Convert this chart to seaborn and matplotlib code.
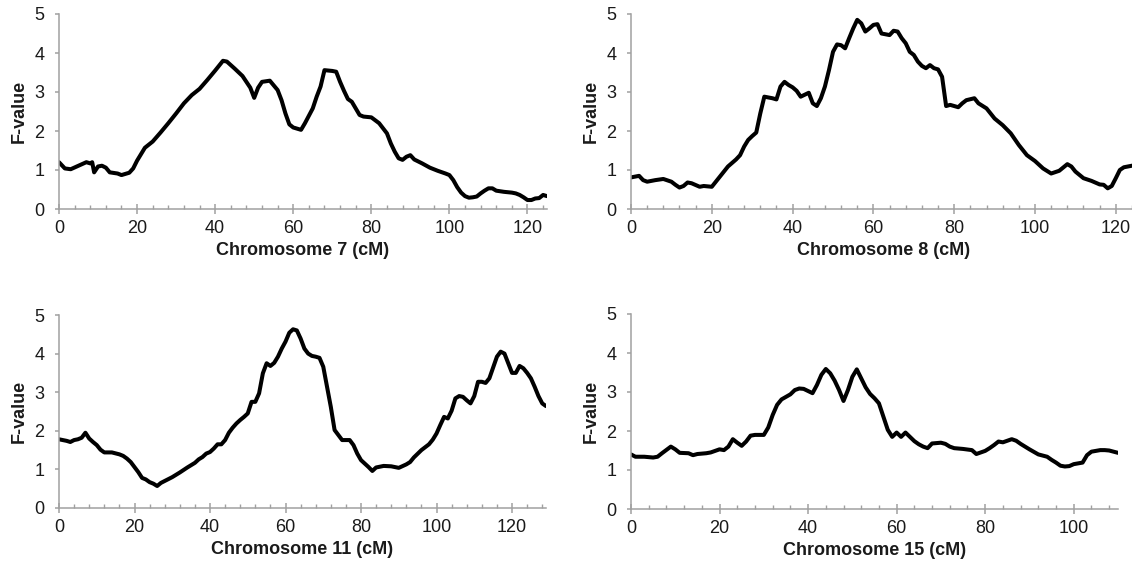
import numpy as np
import pandas as pd
import matplotlib
matplotlib.use("Agg")
import matplotlib.pyplot as plt
from matplotlib.ticker import MultipleLocator
import seaborn as sns

# ---------------- data ----------------
chr7_cm = [0, 1.5, 3, 5, 7, 8, 8.5, 9, 10, 11, 12, 13, 15, 16, 18, 19, 20, 22, 24, 26, 28, 30, 32, 34, 36, 38, 40, 42, 43, 45, 47, 49, 50, 51, 52, 54, 56, 57, 58, 59, 60, 62, 63, 65, 66, 67, 68, 70, 71, 72, 73, 74, 75, 77, 78, 80, 82, 84, 85, 86, 87, 88, 89, 90, 91, 93, 95, 97, 99, 100, 101, 102, 103, 104, 105, 106, 107, 108, 109, 110, 111, 112, 114, 116, 117, 118, 119, 120, 121, 122, 123, 124, 125]
chr7_f = [1.2, 1.04, 1.02, 1.11, 1.2, 1.17, 1.2, 0.94, 1.09, 1.11, 1.06, 0.94, 0.91, 0.87, 0.93, 1.04, 1.24, 1.57, 1.73, 1.96, 2.2, 2.45, 2.71, 2.92, 3.08, 3.31, 3.55, 3.8, 3.78, 3.6, 3.41, 3.11, 2.85, 3.11, 3.26, 3.29, 3.05, 2.79, 2.45, 2.17, 2.09, 2.03, 2.2, 2.58, 2.88, 3.14, 3.56, 3.54, 3.52, 3.26, 3.03, 2.82, 2.75, 2.41, 2.37, 2.35, 2.2, 1.94, 1.68, 1.47, 1.3, 1.26, 1.34, 1.38, 1.27, 1.17, 1.06, 0.98, 0.91, 0.87, 0.74, 0.56, 0.42, 0.33, 0.29, 0.3, 0.32, 0.4, 0.47, 0.53, 0.53, 0.47, 0.44, 0.42, 0.4, 0.36, 0.3, 0.23, 0.23, 0.27, 0.28, 0.36, 0.33]

chr8_cm = [0, 1, 2, 3, 4, 6, 8, 10, 11, 12, 13, 14, 15, 17, 18, 20, 21, 22, 24, 26, 27, 28, 29, 30, 31, 32, 33, 34, 35, 36, 37, 38, 39, 40, 41, 42, 44, 45, 46, 47, 48, 49, 50, 51, 52, 53, 54, 55, 56, 57, 58, 59, 60, 61, 62, 64, 65, 66, 67, 68, 69, 70, 71, 72, 73, 74, 75, 76, 77, 78, 79, 80, 81, 82, 83, 85, 86, 88, 90, 92, 94, 96, 98, 100, 102, 104, 106, 108, 109, 110, 112, 114, 116, 117, 118, 119, 120, 121, 122, 124, 125]
chr8_f = [0.81, 0.83, 0.85, 0.74, 0.7, 0.74, 0.77, 0.7, 0.62, 0.55, 0.59, 0.68, 0.66, 0.57, 0.59, 0.57, 0.7, 0.83, 1.09, 1.27, 1.38, 1.6, 1.77, 1.87, 1.96, 2.45, 2.88, 2.86, 2.84, 2.81, 3.14, 3.26, 3.18, 3.12, 3.03, 2.88, 2.98, 2.71, 2.64, 2.84, 3.14, 3.56, 4.03, 4.22, 4.2, 4.12, 4.38, 4.63, 4.85, 4.76, 4.55, 4.63, 4.72, 4.74, 4.5, 4.46, 4.57, 4.55, 4.38, 4.25, 4.03, 3.95, 3.78, 3.67, 3.61, 3.69, 3.61, 3.58, 3.39, 2.64, 2.67, 2.64, 2.61, 2.71, 2.79, 2.84, 2.71, 2.58, 2.32, 2.15, 1.94, 1.64, 1.38, 1.23, 1.04, 0.91, 0.98, 1.15, 1.09, 0.96, 0.79, 0.72, 0.63, 0.62, 0.53, 0.59, 0.79, 1.0, 1.07, 1.11, 1.12]

chr11_cm = [0, 2, 3, 4, 5, 6, 7, 8, 9, 10, 11, 12, 14, 16, 17, 18, 19, 20, 21, 22, 23, 24, 25, 26, 27, 28, 30, 32, 34, 36, 37, 38, 39, 40, 41, 42, 43, 44, 45, 46, 47, 48, 49, 50, 51, 52, 53, 54, 55, 56, 57, 58, 59, 60, 61, 62, 63, 64, 65, 66, 67, 68, 69, 70, 71, 72, 73, 74, 75, 76, 77, 78, 79, 80, 81, 82, 83, 84, 86, 88, 90, 92, 93, 94, 96, 98, 99, 100, 101, 102, 103, 104, 105, 106, 107, 108, 109, 110, 111, 112, 113, 114, 115, 116, 117, 118, 119, 120, 121, 122, 123, 124, 125, 126, 127, 128, 129]
chr11_f = [1.78, 1.74, 1.71, 1.76, 1.78, 1.82, 1.95, 1.8, 1.71, 1.63, 1.51, 1.44, 1.44, 1.39, 1.35, 1.28, 1.19, 1.06, 0.93, 0.78, 0.74, 0.67, 0.63, 0.57, 0.65, 0.7, 0.8, 0.92, 1.05, 1.17, 1.26, 1.32, 1.41, 1.45, 1.54, 1.65, 1.65, 1.76, 1.95, 2.08, 2.19, 2.28, 2.36, 2.45, 2.75, 2.75, 2.97, 3.49, 3.75, 3.68, 3.76, 3.92, 4.13, 4.31, 4.54, 4.63, 4.6, 4.39, 4.13, 4.0, 3.94, 3.92, 3.89, 3.66, 3.14, 2.62, 2.02, 1.89, 1.76, 1.76, 1.76, 1.63, 1.41, 1.24, 1.15, 1.06, 0.96, 1.05, 1.09, 1.08, 1.04, 1.13, 1.19, 1.31, 1.5, 1.65, 1.77, 1.93, 2.15, 2.36, 2.32, 2.52, 2.84, 2.9, 2.88, 2.79, 2.71, 2.9, 3.27, 3.27, 3.24, 3.36, 3.64, 3.92, 4.05, 4.0, 3.75, 3.5, 3.5, 3.68, 3.62, 3.5, 3.36, 3.14, 2.9, 2.71, 2.64]

chr15_cm = [0, 1, 3, 5, 6, 7, 9, 10, 11, 13, 14, 15, 17, 18, 20, 21, 22, 23, 24, 25, 26, 27, 28, 30, 31, 32, 33, 34, 36, 37, 38, 39, 41, 42, 43, 44, 45, 46, 47, 48, 49, 50, 51, 52, 53, 54, 55, 56, 57, 58, 59, 60, 61, 62, 63, 64, 65, 66, 67, 68, 70, 71, 72, 73, 75, 77, 78, 80, 81, 82, 83, 84, 86, 87, 88, 90, 92, 94, 95, 96, 97, 98, 99, 100, 102, 103, 104, 106, 107, 108, 110]
chr15_f = [1.4, 1.34, 1.34, 1.32, 1.34, 1.43, 1.6, 1.53, 1.44, 1.43, 1.38, 1.41, 1.43, 1.45, 1.53, 1.51, 1.6, 1.79, 1.7, 1.62, 1.73, 1.88, 1.9, 1.9, 2.09, 2.41, 2.67, 2.81, 2.94, 3.05, 3.09, 3.08, 2.97, 3.18, 3.44, 3.59, 3.48, 3.29, 3.05, 2.77, 3.05, 3.39, 3.58, 3.35, 3.12, 2.95, 2.84, 2.71, 2.37, 2.03, 1.85, 1.96, 1.85, 1.96, 1.85, 1.74, 1.66, 1.6, 1.56, 1.68, 1.7, 1.67, 1.6, 1.56, 1.54, 1.51, 1.41, 1.49, 1.56, 1.64, 1.73, 1.71, 1.79, 1.75, 1.67, 1.53, 1.4, 1.34, 1.26, 1.19, 1.11, 1.09, 1.1, 1.15, 1.19, 1.38, 1.47, 1.51, 1.51, 1.5, 1.44]

x_labels = ["Chromosome 7 (cM)", "Chromosome 8 (cM)", "Chromosome 11 (cM)", "Chromosome 15 (cM)"]
x_limits = [125, 125, 129, 110]
y_label = "F-value"

# ---------------- style ----------------
sns.set_theme(style="white")
plt.rcParams["font.family"] = ["Liberation Sans", "DejaVu Sans"]

W, H = 1132, 568
fig = plt.figure(figsize=(W / 100, H / 100), dpi=100)

# axes rectangles in pixels: left, right, top, bottom
rects_px = [(59, 547, 14, 209), (631, 1136, 14, 209), (59, 546, 315, 508), (631, 1118, 314, 509)]
series = [(chr7_cm, chr7_f), (chr8_cm, chr8_f), (chr11_cm, chr11_f), (chr15_cm, chr15_f)]

spine_col = "#a0a0a0"
text_col = "#1a1a1a"

for (l, r, t, b), (xs, ys), xl, xmax in zip(rects_px, series, x_labels, x_limits):
    ax = fig.add_axes([l / W, 1 - b / H, (r - l) / W, (b - t) / H])
    df = pd.DataFrame({"cM": xs, "F": ys})
    sns.lineplot(data=df, x="cM", y="F", ax=ax, color="black", linewidth=2.9,
                 estimator=None, sort=False)
    ax.set_xlim(0, xmax)
    ax.set_ylim(0, 5)
    ax.set_facecolor("white")
    for s in ["top", "right"]:
        ax.spines[s].set_visible(False)
    for s in ["left", "bottom"]:
        ax.spines[s].set_color(spine_col)
        ax.spines[s].set_linewidth(1.1)
    ax.xaxis.set_major_locator(MultipleLocator(20))
    ax.xaxis.set_minor_locator(MultipleLocator(4))
    ax.yaxis.set_major_locator(MultipleLocator(1))
    ax.tick_params(axis="x", which="major", direction="inout", length=7, width=1.1,
                   color=spine_col, labelsize=13, labelcolor=text_col, pad=4.5, bottom=True)
    ax.tick_params(axis="x", which="minor", direction="in", length=3, width=1.0,
                   color=spine_col, bottom=True)
    ax.tick_params(axis="y", which="major", direction="out", length=3, width=1.1,
                   color=spine_col, labelsize=13, labelcolor=text_col, pad=7.5, left=True)
    ax.set_xlabel(xl, fontsize=13, fontweight="bold", color=text_col, labelpad=3.5)
    ax.set_ylabel(y_label, fontsize=13, fontweight="bold", color=text_col, labelpad=5)
    ax.grid(False)

fig.savefig("out.png", dpi=100, facecolor="white")
